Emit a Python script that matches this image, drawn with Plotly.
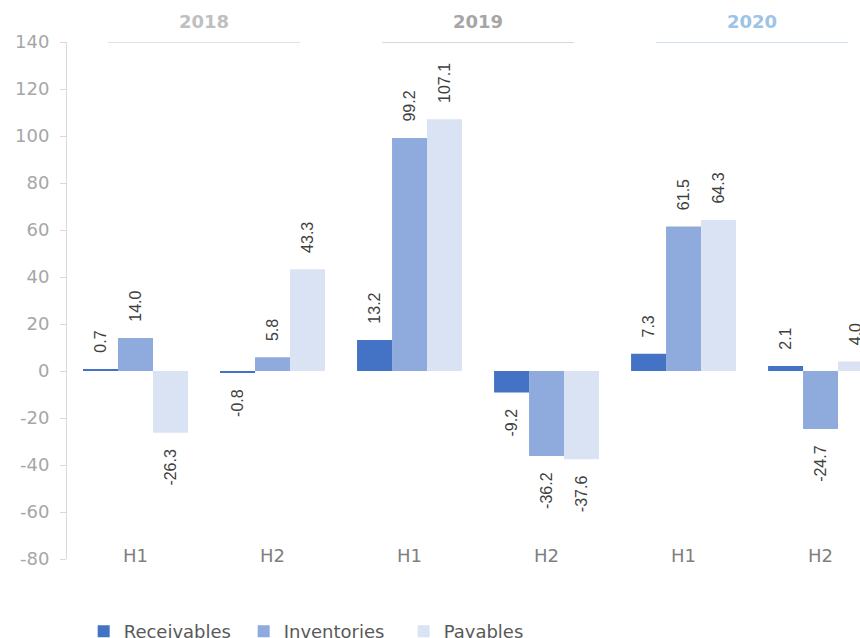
import plotly.graph_objects as go

periods = ["H1", "H2", "H1", "H2", "H1", "H2"]
years = ["2018", "2019", "2020"]
receivables = [0.7, -0.8, 13.2, -9.2, 7.3, 2.1]
inventories = [14.0, 5.8, 99.2, -36.2, 61.5, -24.7]
payables = [-26.3, 43.3, 107.1, -37.6, 64.3, 4.0]
y_ticks = [-80, -60, -40, -20, 0, 20, 40, 60, 80, 100, 120, 140]

series = [
    ("Receivables", receivables, "#4472c4"),
    ("Inventories", inventories, "#8faadc"),
    ("Payables", payables, "#dae3f3"),
]

PAD = "\u00a0" * 3


def label(v):
    s = "%.1f" % v
    return PAD + s if v >= 0 else s + PAD


TICKFONT = "DejaVu Sans"
xs = list(range(len(periods)))
fig = go.Figure()
for name, vals, col in series:
    fig.add_trace(go.Bar(
        x=xs, y=vals, name=name, marker=dict(color=col, line=dict(width=0)),
        text=[label(v) for v in vals], textposition="outside", textangle=-90,
        constraintext="none", cliponaxis=False, hoverinfo="x+y+name",
        textfont=dict(family="Liberation Sans, Arial", size=16, color="#404040"),
    ))

year_colors = ["#bfbfbf", "#a6a6a6", "#9dc3e6"]
line_colors = ["#c8c8c8", "#b4b4b4", "#9dc3e6"]
for i, yr in enumerate(years):
    c = 2 * i + 0.5
    fig.add_shape(type="line", xref="x", yref="y", x0=c - 0.7, x1=c + 0.7,
                  y0=140, y1=140, line=dict(color=line_colors[i], width=1.2))
    fig.add_annotation(x=c, xref="x", y=1, yref="paper", yanchor="bottom",
                       yshift=8, text="<b>%s</b>" % yr, showarrow=False,
                       font=dict(family=TICKFONT, size=18, color=year_colors[i]))

fig.update_layout(
    width=860, height=638,
    margin=dict(l=67, r=0, t=42, b=79),
    paper_bgcolor="white", plot_bgcolor="white",
    barmode="group", bargap=0.234, bargroupgap=0,
    font=dict(family=TICKFONT, color="#7f7f7f"),
    legend=dict(orientation="h", xref="container", yref="container",
                x=0.0973, xanchor="left", y=0.0392, yanchor="top",
                font=dict(family=TICKFONT, size=18, color="#595959"),
                itemwidth=30, traceorder="normal", entrywidth=115),
    xaxis=dict(range=[-0.5, 5.288], tickvals=xs, ticktext=periods,
               showline=False, showgrid=False, zeroline=False, ticks="",
               ticklabelstandoff=-16,
               tickfont=dict(family=TICKFONT, size=18, color="#808080")),
    yaxis=dict(range=[-80, 140], tickvals=y_ticks,
               ticktext=[str(v) for v in y_ticks], showgrid=False,
               zeroline=False, showline=True, linecolor="#d9d9d9",
               linewidth=1, ticks="outside", ticklen=6, tickcolor="#d9d9d9",
               ticklabelstandoff=7,
               tickfont=dict(family=TICKFONT, size=18, color="#a6a6a6")),
)

fig.write_html(
    "out.html",
    config={"displayModeBar": False},
    post_script="document.body.style.margin='0';document.body.style.overflow='hidden';",
)
